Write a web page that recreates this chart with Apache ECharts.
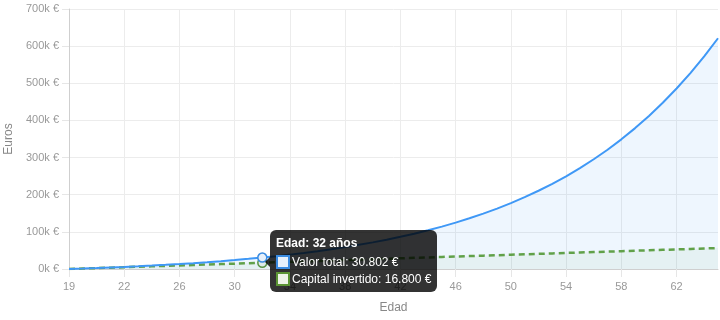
<!DOCTYPE html>
<html>
<head>
<meta charset="utf-8">
<script src="https://cdn.jsdelivr.net/npm/echarts@6/dist/echarts.min.js"></script>
<style>
html,body{margin:0;padding:0;background:#fff;}
#chart{width:720px;height:320px;}
</style>
</head>
<body>
<div id="chart"></div>
<script>
// Ages (one point per year)
const ages = [18,19,20,21,22,23,24,25,26,27,28,29,30,31,32,33,34,35,36,37,38,39,40,41,42,43,44,45,46,47,48,49,50,51,52,53,54,55,56,57,58,59,60,61,62,63,64,65];
// Tick labels shown on the x axis (every 4th point)
const tickLabels = ["19","22","26","30","34","38","42","46","50","54","58","62"];
// Valor total (€)
const valorTotal = [0,1245,2593,4054,5635,7348,9203,11211,13387,15743,18295,21058,24051,27292,30802,34604,38721,43180,48009,53238,58902,65036,71679,78873,86665,95103,104241,114138,124857,136465,149036,162651,177396,193365,210659,229388,249672,271640,295431,321197,349101,379321,412050,447495,485881,527454,572478,621238];
// Capital invertido (€)
const capitalInvertido = [0,1200,2400,3600,4800,6000,7200,8400,9600,10800,12000,13200,14400,15600,16800,18000,19200,20400,21600,22800,24000,25200,26400,27600,28800,30000,31200,32400,33600,34800,36000,37200,38400,39600,40800,42000,43200,44400,45600,46800,48000,49200,50400,51600,52800,54000,55200,56400];
const yTicks = [0,100000,200000,300000,400000,500000,600000,700000];
const hoverIndex = 14;

const BLUE = '#3a8be0';
const GREEN = '#5b9434';
const FONT = '"Liberation Sans", Arial, Helvetica, sans-serif';

function fmt(n){ return String(n).replace(/\B(?=(\d{3})+(?!\d))/g,'.'); }

const chart = echarts.init(document.getElementById('chart'));
const everyFour = (i) => i % 4 === 0;

chart.setOption({
  animation: false,
  textStyle: {fontFamily: FONT},
  grid: {left: 69, right: 2, top: 9, bottom: 51, containLabel: false, outerBoundsMode: 'none'},
  tooltip: {
    trigger: 'axis',
    alwaysShowContent: true,
    transitionDuration: 0,
    axisPointer: {type: 'line', lineStyle: {opacity: 0}},
    backgroundColor: 'rgba(0,0,0,0.8)',
    borderWidth: 0,
    padding: [6, 6, 4, 6],
    extraCssText: 'border-radius:6px;box-shadow:none;',
    textStyle: {color: '#fff', fontSize: 12, fontFamily: FONT},
    position: function(){ return [270, 230]; },
    formatter: function(params){
      const i = params[0].dataIndex;
      const box = (border, fill) => '<span style="display:inline-block;box-sizing:border-box;width:14px;height:14px;border:2px solid '+border+';background:'+fill+';vertical-align:-3px;margin-right:2px;"></span>';
      return '<div style="position:absolute;left:-5px;top:27px;width:0;height:0;border-top:5px solid transparent;border-bottom:5px solid transparent;border-right:5px solid rgba(0,0,0,0.8);"></div>'+
        '<div style="font-weight:bold;line-height:14px;margin-bottom:4px;">Edad: '+ages[i]+' años</div>'+
        '<div style="line-height:17px;">'+box(BLUE,'#e6f0fb')+'Valor total: '+fmt(valorTotal[i])+' €</div>'+
        '<div style="line-height:17px;">'+box(GREEN,'#eef4e8')+'Capital invertido: '+fmt(capitalInvertido[i])+' €</div>';
    }
  },
  xAxis: {
    type: 'category',
    data: ages,
    boundaryGap: false,
    name: 'Edad',
    nameLocation: 'middle',
    nameGap: 33,
    nameTextStyle: {color: '#888', fontSize: 12},
    axisLine: {lineStyle: {color: '#cfcfcf'}},
    axisTick: {show: true, length: 8, interval: (i) => everyFour(i), lineStyle: {color: '#e6e6e6'}},
    axisLabel: {
      interval: (i) => everyFour(i),
      formatter: (v, i) => tickLabels[i / 4] || '',
      color: '#999', fontSize: 11, margin: 12
    },
    splitLine: {show: true, interval: (i) => everyFour(i), lineStyle: {color: '#ececec'}}
  },
  yAxis: {
    type: 'value',
    min: yTicks[0],
    max: yTicks[yTicks.length-1],
    interval: 100000,
    name: 'Euros',
    nameLocation: 'middle',
    nameGap: 51,
    nameRotate: 90,
    nameTextStyle: {color: '#888', fontSize: 12},
    axisLine: {show: true, lineStyle: {color: '#cfcfcf'}},
    axisTick: {show: true, length: 7, lineStyle: {color: '#e6e6e6'}},
    axisLabel: {formatter: (v) => (v/1000) + 'k €', color: '#999', fontSize: 11, margin: 10},
    splitLine: {show: true, lineStyle: {color: '#ececec'}}
  },
  series: [
    {
      name: 'Capital invertido',
      type: 'line',
      data: capitalInvertido,
      showSymbol: false,
      symbol: 'circle',
      symbolSize: 9,
      itemStyle: {color: '#eef4e8', borderColor: GREEN, borderWidth: 1.5},
      lineStyle: {color: GREEN, width: 2.5, type: [6, 4]},
      areaStyle: {color: 'rgba(91,148,52,0.09)'},
      emphasis: {scale: false, focus: 'none', lineStyle: {width: 2.5}},
      z: 2
    },
    {
      name: 'Valor total',
      type: 'line',
      data: valorTotal,
      showSymbol: false,
      symbol: 'circle',
      symbolSize: 9,
      itemStyle: {color: '#e6f0fb', borderColor: BLUE, borderWidth: 1.5},
      lineStyle: {color: BLUE, width: 2},
      areaStyle: {color: 'rgba(58,139,224,0.13)'},
      emphasis: {scale: false, focus: 'none', lineStyle: {width: 2}},
      z: 3
    }
  ]
});

chart.dispatchAction({type: 'showTip', seriesIndex: 1, dataIndex: hoverIndex});
setTimeout(function(){ chart.dispatchAction({type: 'showTip', seriesIndex: 1, dataIndex: hoverIndex}); }, 50);
</script>
</body>
</html>
